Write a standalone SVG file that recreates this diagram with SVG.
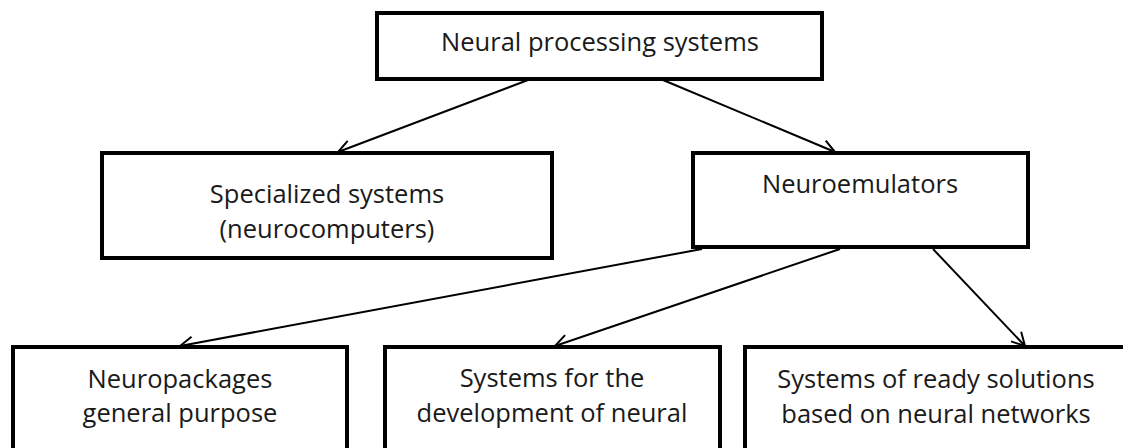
<svg xmlns="http://www.w3.org/2000/svg" width="1123" height="448" viewBox="0 0 1123 448">
  <style>
    .box { fill: #ffffff; stroke: #000000; stroke-width: 4; }
    .lbl { font-family: "Open Sans", "Liberation Sans", sans-serif; font-size: 25.5px; fill: #1a1a1a; text-anchor: middle; }
    .conn { stroke: #000000; stroke-width: 2; fill: none; marker-end: url(#arr); }
  </style>
  <defs>
    <marker id="arr" markerUnits="userSpaceOnUse" viewBox="-16 -10 18 20" refX="0" refY="0" markerWidth="18" markerHeight="20" orient="auto">
      <path d="M-13,-7 L0,0 L-13,7" fill="none" stroke="#000000" stroke-width="2"/>
    </marker>
  </defs>
  <rect width="1123" height="448" fill="#ffffff"/>

  <g id="connectors">
    <line class="conn" x1="528" y1="80" x2="338" y2="152"/>
    <line class="conn" x1="663" y1="80" x2="835" y2="152"/>
    <line class="conn" x1="702" y1="249" x2="180" y2="346"/>
    <line class="conn" x1="840" y1="249" x2="555" y2="346"/>
    <line class="conn" x1="933" y1="249" x2="1025" y2="346"/>
  </g>

  <g id="node-neural-processing">
    <rect class="box" x="377" y="13" width="445" height="66"/>
    <text class="lbl" x="600" y="51">Neural processing systems</text>
  </g>

  <g id="node-specialized">
    <rect class="box" x="102" y="153" width="450" height="105"/>
    <text class="lbl" x="327" y="203">Specialized systems</text>
    <text class="lbl" x="327" y="238">(neurocomputers)</text>
  </g>

  <g id="node-neuroemulators">
    <rect class="box" x="693" y="153" width="335" height="94"/>
    <text class="lbl" x="860" y="193">Neuroemulators</text>
  </g>

  <g id="node-neuropackages">
    <rect class="box" x="13" y="347" width="334" height="120"/>
    <text class="lbl" x="180" y="388">Neuropackages</text>
    <text class="lbl" x="180" y="422">general purpose</text>
  </g>

  <g id="node-development">
    <rect class="box" x="385" y="347" width="335" height="120"/>
    <text class="lbl" x="552" y="387">Systems for the</text>
    <text class="lbl" x="552" y="422">development of neural</text>
  </g>

  <g id="node-ready-solutions">
    <rect class="box" x="745" y="347" width="383" height="120"/>
    <text class="lbl" x="936" y="388">Systems of ready solutions</text>
    <text class="lbl" x="936" y="423">based on neural networks</text>
  </g>
</svg>
